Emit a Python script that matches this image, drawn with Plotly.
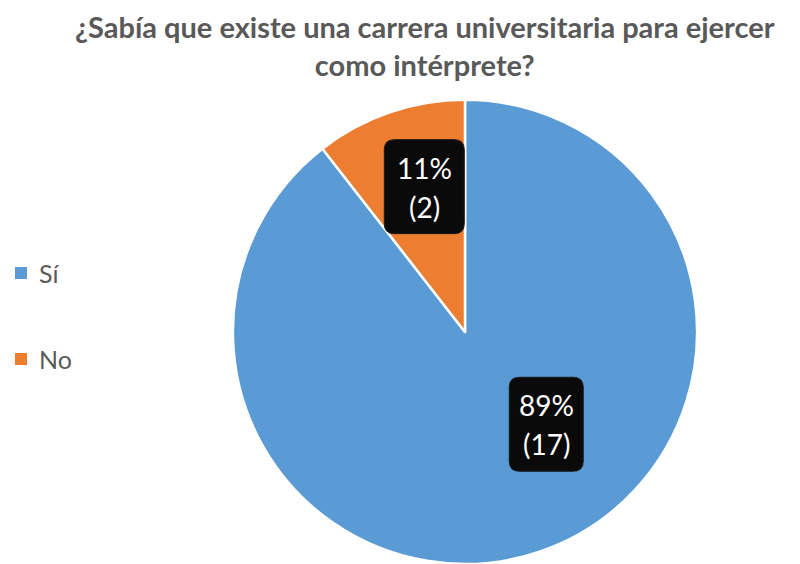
import math
import plotly.graph_objects as go

# Survey answers
labels = ["Sí", "No"]
counts = [17, 2]
percent_labels = ["89%", "11%"]
colors = ["#5B9BD5", "#ED7D31"]

title_text = "¿Sabía que existe una carrera universitaria para ejercer<br>como intérprete?"

W, H = 800, 564
FONT = "Lato"
GRAY = "#595959"

dom_x = [0.29, 0.8725]
dom_y = [0.0, 0.823]

fig = go.Figure(go.Pie(
    labels=labels,
    values=counts,
    sort=False,
    direction="clockwise",
    rotation=0,
    marker=dict(colors=colors, line=dict(color="white", width=2.5)),
    textinfo="none",
    hoverinfo="label+value+percent",
    showlegend=False,
    domain=dict(x=dom_x, y=dom_y),
))

# pie geometry in pixels (top-left origin)
w_px = (dom_x[1] - dom_x[0]) * W
h_px = (dom_y[1] - dom_y[0]) * H
radius = min(w_px, h_px) / 2
cx = (dom_x[0] + dom_x[1]) / 2 * W
cy = H - (dom_y[0] + dom_y[1]) / 2 * H


def px_to_paper(x, y):
    return x / W, 1 - y / H


# label placement: angle shift from slice middle (deg), radial fraction, box size
label_place = [(-22.4, 0.53, 74, 94), (3.3, 0.65, 80, 94)]

shapes = []
annotations = []
total = sum(counts)
start = 0.0
for i, (lab, val) in enumerate(zip(labels, counts)):
    sweep = val / total * 360
    mid = start + sweep / 2
    start += sweep
    shift, rf, bw, bh = label_place[i]
    ang = math.radians(mid + shift)
    bx = cx + rf * radius * math.sin(ang)
    by = cy - rf * radius * math.cos(ang)
    # rounded dark box
    x0, x1 = bx - bw / 2, bx + bw / 2
    y0, y1 = by - bh / 2, by + bh / 2
    r = 10
    p0x, p0y = px_to_paper(x0, y0)
    p1x, p1y = px_to_paper(x1, y1)
    rx, ry = r / W, r / H
    path = (f"M {p0x+rx},{p0y} L {p1x-rx},{p0y} Q {p1x},{p0y} {p1x},{p0y-ry} "
            f"L {p1x},{p1y+ry} Q {p1x},{p1y} {p1x-rx},{p1y} "
            f"L {p0x+rx},{p1y} Q {p0x},{p1y} {p0x},{p1y+ry} "
            f"L {p0x},{p0y-ry} Q {p0x},{p0y} {p0x+rx},{p0y} Z")
    shapes.append(dict(type="path", xref="paper", yref="paper", path=path,
                       fillcolor="#0a0a0a", line=dict(color="#1a1a1a", width=1)))
    for txt, dy in ((percent_labels[i], -19), (f"({val})", 20)):
        ax, ay = px_to_paper(bx, by + dy)
        annotations.append(dict(x=ax, y=ay, xref="paper", yref="paper",
                                text=txt, showarrow=False,
                                xanchor="center", yanchor="middle",
                                font=dict(family=FONT, size=28, color="white")))

# legend
leg_y = [273, 359]
for i, lab in enumerate(labels):
    sx0, sy0 = px_to_paper(15, leg_y[i] - 6)
    sx1, sy1 = px_to_paper(27, leg_y[i] + 6)
    shapes.append(dict(type="rect", xref="paper", yref="paper",
                       x0=sx0, x1=sx1, y0=sy1, y1=sy0,
                       fillcolor=colors[i], line=dict(width=0)))
    tx, ty = px_to_paper(37, leg_y[i])
    annotations.append(dict(x=tx, y=ty, xref="paper", yref="paper", text=lab,
                            showarrow=False, xanchor="left", yanchor="middle",
                            font=dict(family=FONT, size=25, color=GRAY)))

# title
tx, ty = px_to_paper(425, 46)
annotations.append(dict(x=tx, y=ty, xref="paper", yref="paper", text=f"<b>{title_text}</b>",
                        showarrow=False, xanchor="center", yanchor="middle",
                        font=dict(family=FONT, size=29, color=GRAY)))

fig.update_layout(
    width=W, height=H,
    margin=dict(l=0, r=0, t=0, b=0),
    paper_bgcolor="white",
    plot_bgcolor="white",
    shapes=shapes,
    annotations=annotations,
)

fig.write_html("out.html")
